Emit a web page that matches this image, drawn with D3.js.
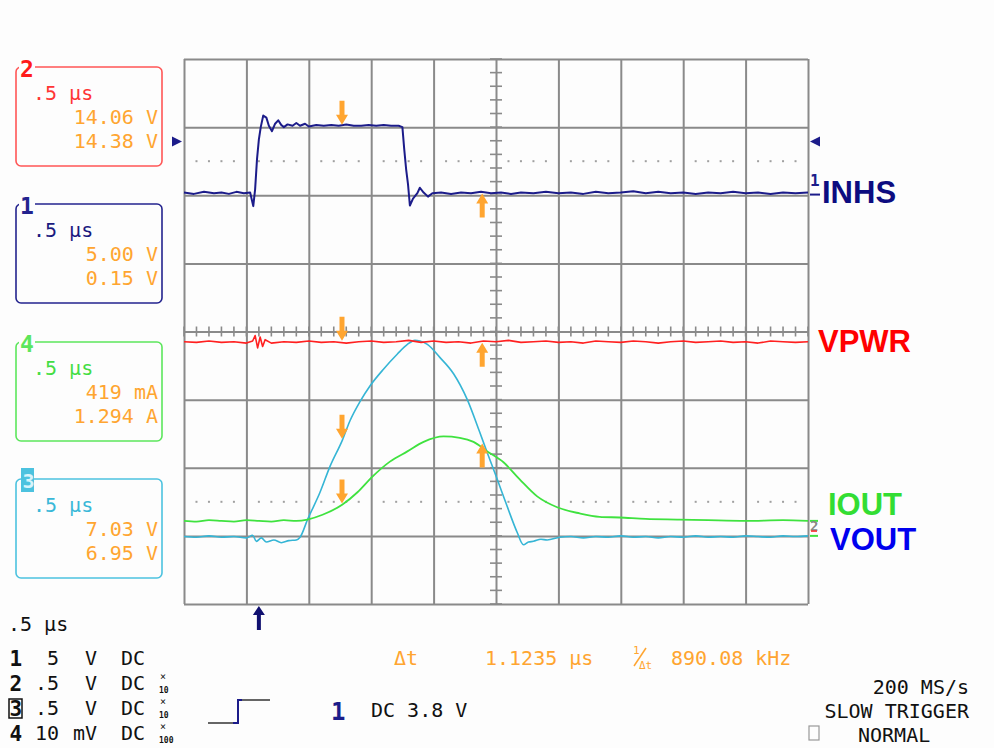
<!DOCTYPE html>
<meta charset="utf-8">
<head>
	<title>Scope capture</title>
	<script src="https://d3js.org/d3.v7.min.js"></script>
	<style>
		body { margin: 0; background: #fff; overflow: hidden; }
		text { font-family: "DejaVu Sans Mono", monospace; }
		.big { font-family: "Liberation Sans", Arial, sans-serif; font-weight: bold; }
	</style>
</head>
<body>
<script>

	// time in µs (0.5 µs/div), level in screen divisions (0 = centre line)
	const inhsTrace = [[0,2.04],[0.08,2.02],[0.16,2.05],[0.24,2.03],[0.3,2.04],[0.36,2.02],[0.42,2.05],[0.48,2.03],[0.53,2.04],
		[0.555,1.84],[0.57,2.09],[0.585,2.53],[0.6,2.82],[0.615,3.0],[0.635,3.17],[0.66,3.14],[0.68,3.02],[0.705,2.94],
		[0.73,3.05],[0.755,3.1],[0.78,3.03],[0.8,3.0],[0.83,3.04],[0.87,3.02],[0.9,3.06],[0.93,3.02],[0.97,3.05],[1.0,3.01],
		[1.06,3.03],[1.12,3.02],[1.18,3.03],[1.24,3.02],[1.3,3.04],[1.36,3.02],[1.42,3.02],[1.48,3.03],[1.54,3.02],[1.6,3.03],
		[1.66,3.02],[1.72,3.02],[1.75,3.0],[1.765,2.67],[1.78,2.38],[1.795,2.16],[1.81,1.85],[1.835,1.95],[1.87,2.03],
		[1.89,2.11],[1.92,2.04],[1.955,1.98],[1.99,2.03],[2.06,2.04],[2.14,2.02],[2.22,2.04],[2.3,2.03],[2.38,2.05],
		[2.46,2.03],[2.54,2.04],[2.62,2.02],[2.7,2.04],[2.8,2.03],[2.9,2.05],[3.0,2.03],[3.1,2.04],[3.2,2.02],[3.3,2.05],
		[3.4,2.03],[3.5,2.04],[3.6,2.06],[3.7,2.03],[3.8,2.05],[3.9,2.03],[4.0,2.04],[4.1,2.02],[4.2,2.04],[4.3,2.03],
		[4.4,2.05],[4.5,2.03],[4.6,2.04],[4.7,2.02],[4.8,2.04],[4.9,2.03],[5.0,2.04]];

	const vpwrTrace = [[0,-0.15],[0.1,-0.16],[0.2,-0.14],[0.3,-0.16],[0.4,-0.15],[0.5,-0.17],[0.55,-0.14],[0.57,-0.06],
		[0.59,-0.24],[0.61,-0.08],[0.63,-0.22],[0.65,-0.12],[0.7,-0.17],[0.8,-0.15],[0.9,-0.16],[1.0,-0.14],[1.1,-0.16],
		[1.2,-0.15],[1.3,-0.17],[1.4,-0.15],[1.5,-0.14],[1.6,-0.16],[1.7,-0.15],[1.8,-0.13],[1.9,-0.16],[2.0,-0.14],
		[2.1,-0.16],[2.2,-0.15],[2.3,-0.17],[2.4,-0.14],[2.5,-0.15],[2.6,-0.13],[2.7,-0.16],[2.8,-0.15],[2.9,-0.14],
		[3.0,-0.16],[3.1,-0.15],[3.2,-0.17],[3.3,-0.14],[3.4,-0.15],[3.5,-0.16],[3.6,-0.14],[3.7,-0.15],[3.8,-0.17],
		[3.9,-0.15],[4.0,-0.14],[4.1,-0.16],[4.2,-0.15],[4.3,-0.14],[4.4,-0.16],[4.5,-0.15],[4.6,-0.17],[4.7,-0.14],
		[4.8,-0.15],[4.9,-0.16],[5.0,-0.15]];

	const voutTrace = [[0,-3.01],[0.1,-3.02],[0.2,-3.0],[0.3,-3.02],[0.4,-3.01],[0.5,-3.03],[0.55,-2.99],[0.58,-3.08],
		[0.62,-3.03],[0.66,-3.09],[0.72,-3.06],[0.78,-3.1],[0.84,-3.07],[0.9,-3.06],[0.93,-3.02],[0.99,-2.76],[1.09,-2.36],
		[1.17,-1.98],[1.27,-1.59],[1.33,-1.31],[1.41,-1.03],[1.49,-0.8],[1.6,-0.55],[1.71,-0.33],[1.79,-0.19],[1.85,-0.13],
		[1.89,-0.14],[1.95,-0.19],[2.05,-0.38],[2.16,-0.62],[2.27,-1.0],[2.37,-1.48],[2.43,-1.78],[2.51,-2.17],[2.59,-2.57],
		[2.67,-2.95],[2.72,-3.13],[2.76,-3.09],[2.8,-3.08],[2.86,-3.05],[2.91,-3.06],[3.01,-3.02],[3.1,-3.01],[3.2,-3.03],
		[3.3,-3.01],[3.4,-3.02],[3.5,-3.0],[3.6,-3.02],[3.7,-3.01],[3.8,-3.03],[3.9,-3.01],[4.0,-3.02],[4.1,-3.0],
		[4.2,-3.02],[4.3,-3.01],[4.4,-3.02],[4.5,-3.0],[4.6,-3.01],[4.7,-3.02],[4.8,-3.0],[4.9,-3.01],[5.0,-3.0]];

	const ioutTrace = [[0,-2.78],[0.1,-2.79],[0.2,-2.77],[0.3,-2.78],[0.4,-2.79],[0.5,-2.77],[0.6,-2.78],[0.7,-2.79],
		[0.8,-2.77],[0.9,-2.78],[0.99,-2.76],[1.11,-2.69],[1.27,-2.54],[1.39,-2.36],[1.51,-2.13],[1.65,-1.91],[1.79,-1.76],
		[1.92,-1.62],[2.08,-1.54],[2.21,-1.56],[2.32,-1.62],[2.43,-1.76],[2.56,-1.92],[2.69,-2.17],[2.83,-2.42],[2.99,-2.58],
		[3.17,-2.67],[3.33,-2.72],[3.49,-2.73],[3.7,-2.75],[3.97,-2.76],[4.2,-2.77],[4.5,-2.78],[4.8,-2.77],[5.0,-2.78]];

	const traceNames = ['INHS', 'VPWR', 'IOUT', 'VOUT'];
	const traceColors = ['#1c1c8a', '#ff2020', '#3fe23f', '#35b5d5'];
	const nameColors = ['#0c0c80', '#ff0000', '#33dd33', '#0000ee'];

	// cursors (µs) and the levels the arrows point at
	const cursorTimes = [1.266, 2.3895];
	const downArrowLevels = [3.02, -0.15, -1.59, -2.54];
	const upArrowLevels = [2.04, -0.15, -1.63];
	const triggerTime = 0.6;
	const triggerLevel = 2.79;
	const ch1Ground = 2.01;
	const dottedLevels = [2.5, -2.5];

	// readout boxes
	const boxLabels = ['2', '1', '4', '3'];
	const boxTimebase = ['.5 µs', '.5 µs', '.5 µs', '.5 µs'];
	const boxValueA = ['14.06 V', '5.00 V', '419 mA', '7.03 V'];
	const boxValueB = ['14.38 V', '0.15 V', '1.294 A', '6.95 V'];
	const boxColors = ['#ff5656', '#23238e', '#5ce65c', '#4cc2df'];
	const boxTextColors = ['#ff3535', '#1a1a80', '#44dd44', '#3ab8d8'];

	// channel settings
	const chNumbers = ['1', '2', '3', '4'];
	const chScale = ['5', '.5', '.5', '10'];
	const chUnit = ['V', 'V', 'V', 'mV'];
	const chCoupling = ['DC', 'DC', 'DC', 'DC'];
	const chProbe = ['', '10', '10', '100'];

	const orange = '#ffa530';

	const width = 994, height = 748;
	const svg = d3.select('body').append('svg')
		.attr('width', width)
		.attr('height', height);

	svg.append('rect').attr('width', width).attr('height', height).attr('fill', '#fdfdfd');

	const x = d3.scaleLinear().domain([0, 5]).range([184, 808]);
	const y = d3.scaleLinear().domain([-4, 4]).range([604, 59]);

	// grid
	const gridCol = '#8a8a8a';
	svg.append('g')
		.attr('transform', `translate(0,${y(-4)})`)
		.call(d3.axisBottom(x).tickValues(d3.range(0, 5.001, 0.5)).tickSize(-(y(-4) - y(4))).tickFormat(''))
		.call(g => g.select('.domain').remove())
		.call(g => g.selectAll('line').attr('stroke', gridCol).attr('stroke-width', 2));
	svg.append('g')
		.attr('transform', `translate(${x(0)},0)`)
		.call(d3.axisLeft(y).tickValues(d3.range(-4, 4.001, 1)).tickSize(-(x(5) - x(0))).tickFormat(''))
		.call(g => g.select('.domain').remove())
		.call(g => g.selectAll('line').attr('stroke', gridCol).attr('stroke-width', 2));

	// centre axis minor ticks
	svg.append('g').selectAll('line')
		.data(d3.range(0, 5.001, 0.1))
		.join('line')
		.attr('x1', d => x(d)).attr('x2', d => x(d))
		.attr('y1', y(0) - 5).attr('y2', y(0) + 5)
		.attr('stroke', gridCol).attr('stroke-width', 1.6);
	svg.append('g').selectAll('line')
		.data(d3.range(-4, 4.001, 0.2))
		.join('line')
		.attr('x1', x(2.5) - 6).attr('x2', x(2.5) + 6)
		.attr('y1', d => y(d)).attr('y2', d => y(d))
		.attr('stroke', gridCol).attr('stroke-width', 1.6);

	// dotted reference levels
	const dotTimes = d3.range(0, 51).map(i => i / 10).filter((d, i) => i % 5 !== 0);
	dottedLevels.forEach(lv => {
		svg.append('g').selectAll('rect')
			.data(dotTimes)
			.join('rect')
			.attr('x', d => x(d) - 1).attr('y', y(lv) - 1)
			.attr('width', 2).attr('height', 2)
			.attr('fill', '#a0a0a0');
	});

	// traces
	const edgeLine = d3.line().x(d => x(d[0])).y(d => y(d[1]));
	const smoothLine = d3.line().x(d => x(d[0])).y(d => y(d[1])).curve(d3.curveMonotoneX);
	const traces = [inhsTrace, vpwrTrace, ioutTrace, voutTrace];
	[3, 2, 1, 0].forEach(i => {
		svg.append('path')
			.datum(traces[i])
			.attr('d', i >= 2 ? smoothLine : edgeLine)
			.attr('fill', 'none')
			.attr('stroke', traceColors[i])
			.attr('stroke-width', i === 0 ? 2 : (i === 2 ? 1.8 : 1.6))
			.attr('stroke-linejoin', 'round');
	});

	// trace names
	const namePos = [[822, 203], [818, 352], [828, 515], [830, 550]];
	svg.append('g').selectAll('text')
		.data(traceNames)
		.join('text')
		.attr('class', 'big')
		.attr('x', (d, i) => namePos[i][0])
		.attr('y', (d, i) => namePos[i][1])
		.attr('font-size', 31)
		.attr('fill', (d, i) => nameColors[i])
		.text(d => d);

	// channel 1 ground marker
	svg.append('line').attr('x1', x(5) + 2).attr('x2', x(5) + 12)
		.attr('y1', y(ch1Ground)).attr('y2', y(ch1Ground))
		.attr('stroke', '#1c1c8a').attr('stroke-width', 2);
	svg.append('text').attr('x', 810).attr('y', 186).attr('font-size', 16)
		.attr('fill', '#1c1c8a').attr('font-weight', 'bold').text('1');
	// lower ground markers
	svg.append('line').attr('x1', x(5) + 2).attr('x2', x(5) + 10)
		.attr('y1', y(-2.78)).attr('y2', y(-2.78)).attr('stroke', '#3fe23f').attr('stroke-width', 2);
	svg.append('line').attr('x1', x(5) + 2).attr('x2', x(5) + 10)
		.attr('y1', y(-3.0)).attr('y2', y(-3.0)).attr('stroke', '#3fe23f').attr('stroke-width', 2);
	svg.append('text').attr('x', 810).attr('y', 531).attr('font-size', 14)
		.attr('fill', '#888').attr('font-weight', 'bold').text('2');
	svg.append('line').attr('x1', x(5) + 3).attr('x2', x(5) + 9)
		.attr('y1', y(-2.93)).attr('y2', y(-2.93)).attr('stroke', '#ff3030').attr('stroke-width', 1.5);

	// trigger level markers
	const ty = y(triggerLevel);
	svg.append('path').attr('d', `M${x(0) - 12},${ty - 5}L${x(0) - 2},${ty}L${x(0) - 12},${ty + 5}Z`).attr('fill', '#1c1c8a');
	svg.append('path').attr('d', `M${x(5) + 12},${ty - 5}L${x(5) + 2},${ty}L${x(5) + 12},${ty + 5}Z`).attr('fill', '#1c1c8a');

	// trigger time arrow
	const tx = x(triggerTime);
	svg.append('path')
		.attr('d', `M${tx},${y(-4) + 2}L${tx + 6},${y(-4) + 11}L${tx + 2},${y(-4) + 11}L${tx + 2},${y(-4) + 26}L${tx - 2},${y(-4) + 26}L${tx - 2},${y(-4) + 11}L${tx - 6},${y(-4) + 11}Z`)
		.attr('fill', '#101070');

	// cursor arrows
	function arrow(cx, tipY, dir) {
		// dir = 1 points down, -1 points up
		const s = dir;
		return `M${cx},${tipY}L${cx + 6},${tipY - 10 * s}L${cx + 2.5},${tipY - 10 * s}L${cx + 2.5},${tipY - 24 * s}` +
			`L${cx - 2.5},${tipY - 24 * s}L${cx - 2.5},${tipY - 10 * s}L${cx - 6},${tipY - 10 * s}Z`;
	}
	svg.append('g').selectAll('path')
		.data(downArrowLevels)
		.join('path')
		.attr('d', d => arrow(x(cursorTimes[0]), y(d) - 1, 1))
		.attr('fill', orange);
	svg.append('g').selectAll('path')
		.data(upArrowLevels)
		.join('path')
		.attr('d', d => arrow(x(cursorTimes[1]), y(d) + 1, -1))
		.attr('fill', orange);

	// readout boxes
	const boxTop = [67, 204, 342, 479];
	boxLabels.forEach((lab, i) => {
		const g = svg.append('g').attr('transform', `translate(16,${boxTop[i]})`);
		g.append('rect').attr('width', 146).attr('height', 99).attr('rx', 5)
			.attr('fill', 'none').attr('stroke', boxColors[i]).attr('stroke-width', 1.6);
		if (lab === '3') {
			g.append('rect').attr('x', 5).attr('y', -11).attr('width', 13).attr('height', 24)
				.attr('fill', boxColors[i]);
			g.append('text').attr('x', 6.5).attr('y', 9).attr('font-size', 20).attr('font-weight', 'bold')
				.attr('fill', '#d8f4fb').text(lab);
		} else {
			g.append('rect').attr('x', 3).attr('y', -4).attr('width', 16).attr('height', 8).attr('fill', '#fdfdfd');
			g.append('text').attr('x', 4).attr('y', 10).attr('font-size', 23).attr('font-weight', 'bold')
				.attr('fill', boxColors[i] === '#ff5656' ? '#ff1a1a' : boxColors[i]).text(lab);
		}
		g.append('text').attr('x', 17).attr('y', 33).attr('font-size', 20)
			.attr('fill', boxTextColors[i]).text(boxTimebase[i]);
		g.append('text').attr('x', 142).attr('y', 57).attr('font-size', 20).attr('text-anchor', 'end')
			.attr('fill', orange).text(boxValueA[i]);
		g.append('text').attr('x', 142).attr('y', 81).attr('font-size', 20).attr('text-anchor', 'end')
			.attr('fill', orange).text(boxValueB[i]);
	});

	// bottom readouts
	svg.append('text').attr('x', 8).attr('y', 631).attr('font-size', 20).attr('fill', '#111').text('.5 µs');
	chNumbers.forEach((n, i) => {
		const by = 665 + i * 25;
		if (n === '3') {
			svg.append('rect').attr('x', 9).attr('y', by - 16).attr('width', 13).attr('height', 19)
				.attr('fill', 'none').attr('stroke', '#111').attr('stroke-width', 1.5);
		}
		svg.append('text').attr('x', 9.5).attr('y', by + 1).attr('font-size', 21).attr('font-weight', 'bold')
			.attr('fill', '#111').text(n);
		svg.append('text').attr('x', 59).attr('y', by).attr('font-size', 20).attr('text-anchor', 'end')
			.attr('fill', '#111').text(chScale[i]);
		svg.append('text').attr('x', 97).attr('y', by).attr('font-size', 20).attr('text-anchor', 'end')
			.attr('fill', '#111').text(chUnit[i]);
		svg.append('text').attr('x', 121).attr('y', by).attr('font-size', 20)
			.attr('fill', '#111').text(chCoupling[i]);
		if (chProbe[i]) {
			svg.append('text').attr('x', 160).attr('y', by - 10).attr('font-size', 10)
				.attr('fill', '#111').text('×');
			svg.append('text').attr('x', 159).attr('y', by + 3).attr('font-size', 8).attr('font-weight', 'bold')
				.attr('fill', '#111').text(chProbe[i]);
		}
	});

	// trigger symbol
	svg.append('path').attr('d', 'M208,723L237,723').attr('stroke', '#333').attr('stroke-width', 1.5).attr('fill', 'none');
	svg.append('path').attr('d', 'M233,723L238,723L238,700L242,700').attr('stroke', '#1c1c8a').attr('stroke-width', 2).attr('fill', 'none');
	svg.append('path').attr('d', 'M242,700L270,700').attr('stroke', '#333').attr('stroke-width', 1.5).attr('fill', 'none');
	svg.append('text').attr('x', 331).attr('y', 720).attr('font-size', 24).attr('font-weight', 'bold')
		.attr('fill', '#1c1c8a').text('1');
	svg.append('text').attr('x', 371).attr('y', 717).attr('font-size', 20).attr('fill', '#111').text('DC 3.8 V');

	// cursor readout
	svg.append('text').attr('x', 394).attr('y', 665).attr('font-size', 20).attr('fill', orange).text('Δt');
	svg.append('text').attr('x', 485).attr('y', 665).attr('font-size', 20).attr('fill', orange).text('1.1235 µs');
	svg.append('text').attr('x', 633).attr('y', 654).attr('font-size', 11).attr('fill', orange).text('1');
	svg.append('line').attr('x1', 634).attr('y1', 666).attr('x2', 646).attr('y2', 648)
		.attr('stroke', orange).attr('stroke-width', 1.5);
	svg.append('text').attr('x', 639).attr('y', 669).attr('font-size', 11).attr('fill', orange).text('Δt');
	svg.append('text').attr('x', 671).attr('y', 665).attr('font-size', 20).attr('fill', orange).text('890.08 kHz');

	// acquisition info
	svg.append('text').attr('x', 969).attr('y', 694).attr('font-size', 20).attr('text-anchor', 'end').attr('fill', '#111').text('200 MS/s');
	svg.append('text').attr('x', 969).attr('y', 718).attr('font-size', 20).attr('text-anchor', 'end').attr('fill', '#111').text('SLOW TRIGGER');
	svg.append('text').attr('x', 858).attr('y', 742).attr('font-size', 20).attr('fill', '#111').text('NORMAL');
	svg.append('rect').attr('x', 809).attr('y', 726).attr('width', 10).attr('height', 14)
		.attr('fill', 'none').attr('stroke', '#999').attr('stroke-width', 1.2);

</script>
</body>
</html>
